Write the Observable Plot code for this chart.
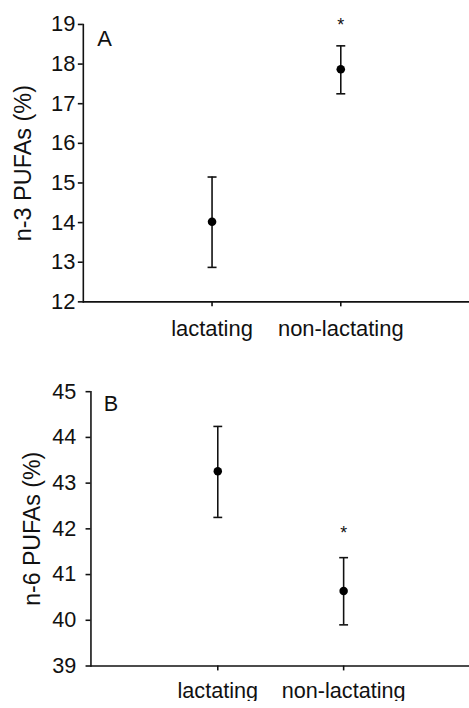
<!DOCTYPE html>
<html>
<head>
<meta charset="utf-8">
<script src="https://cdn.jsdelivr.net/npm/d3@7"></script>
<script src="https://cdn.jsdelivr.net/npm/@observablehq/plot@0.6"></script>
<style>
  html, body { margin: 0; padding: 0; background: #fff; overflow: hidden; }
  #charts > div, #charts > svg { display: block; }
</style>
</head>
<body>
<div id="charts"></div>
<script>
const categories = ["lactating", "non-lactating"];

// Panel A: n-3 PUFAs (%)
const n3Mean  = [14.02, 17.87];
const n3Upper = [15.15, 18.46];
const n3Lower = [12.87, 17.25];
const n3Sig   = ["", "*"];
const n3SigY  = [null, 18.97];
const n3Ticks = [12, 13, 14, 15, 16, 17, 18, 19];

// Panel B: n-6 PUFAs (%)
const n6Mean  = [43.26, 40.64];
const n6Upper = [44.24, 41.37];
const n6Lower = [42.25, 39.90];
const n6Sig   = ["", "*"];
const n6SigY  = [null, 41.90];
const n6Ticks = [39, 40, 41, 42, 43, 44, 45];

const ink = "#111";
const font = "'Liberation Sans', Arial, Helvetica, sans-serif";
const fs = 22;
const labelFs = 23.5;
const capSymbol = {
  draw(context) {
    context.moveTo(-4.5, 0);
    context.lineTo(4.5, 0);
  }
};

function panel({mean, upper, lower, sig, sigY, ticks, letter, ylabel,
                width, height, mt, mb, ml, tickPad, xPad, labelDx, letterDx, letterDy}) {
  const rows = categories.map((c, i) => ({
    cat: c, mean: mean[i], hi: upper[i], lo: lower[i], sig: sig[i], sigY: sigY[i]
  }));
  return Plot.plot({
    width, height,
    marginTop: mt, marginBottom: mb, marginLeft: ml, marginRight: 0,
    style: {fontFamily: font, fontSize: fs + "px", color: ink, background: "#fff", overflow: "visible"},
    x: {type: "point", domain: categories, padding: 1},
    y: {domain: [ticks[0], ticks[ticks.length - 1]]},
    marks: [
      Plot.frame({anchor: "left", stroke: ink, strokeWidth: 1.6}),
      Plot.frame({anchor: "bottom", stroke: ink, strokeWidth: 1.6}),
      Plot.axisY({ticks, tickFormat: d3.format("d"), tickSize: 5, tickPadding: tickPad, label: null, strokeWidth: 1.6, fontSize: fs, fill: ink}),
      Plot.axisX({tickSize: 5, tickPadding: xPad, label: null, strokeWidth: 1.6, fontSize: fs, fill: ink}),
      Plot.ruleX(rows, {x: "cat", y1: "lo", y2: "hi", stroke: ink, strokeWidth: 1.6}),
      Plot.dot(rows, {x: "cat", y: "hi", symbol: capSymbol, stroke: ink, strokeWidth: 1.6, fill: "none"}),
      Plot.dot(rows, {x: "cat", y: "lo", symbol: capSymbol, stroke: ink, strokeWidth: 1.6, fill: "none"}),
      Plot.dot(rows, {x: "cat", y: "mean", r: 4.3, fill: "#000", stroke: "none"}),
      Plot.text(rows.filter(d => d.sig), {x: "cat", y: "sigY", text: "sig", fontSize: 18, fill: ink, lineAnchor: "middle"}),
      Plot.text([letter], {frameAnchor: "top-left", dx: letterDx, dy: letterDy, textAnchor: "start", lineAnchor: "middle", fontSize: fs, fill: ink}),
      Plot.text([ylabel], {frameAnchor: "left", dx: labelDx, rotate: -90, textAnchor: "middle", lineAnchor: "middle", fontSize: labelFs, fill: ink})
    ]
  });
}

const root = document.getElementById("charts");
root.appendChild(panel({
  mean: n3Mean, upper: n3Upper, lower: n3Lower, sig: n3Sig, sigY: n3SigY, ticks: n3Ticks,
  letter: "A", ylabel: "n-3 PUFAs (%)",
  width: 470, height: 345, mt: 24, mb: 43, ml: 83, tickPad: 3, xPad: 14,
  labelDx: -60, letterDx: 14, letterDy: 15
}));
root.appendChild(panel({
  mean: n6Mean, upper: n6Upper, lower: n6Lower, sig: n6Sig, sigY: n6SigY, ticks: n6Ticks,
  letter: "B", ylabel: "n-6 PUFAs (%)",
  width: 477, height: 363, mt: 48, mb: 36, ml: 92, tickPad: 10, xPad: 12,
  labelDx: -59, letterDx: 13, letterDy: 13
}));
</script>
</body>
</html>
